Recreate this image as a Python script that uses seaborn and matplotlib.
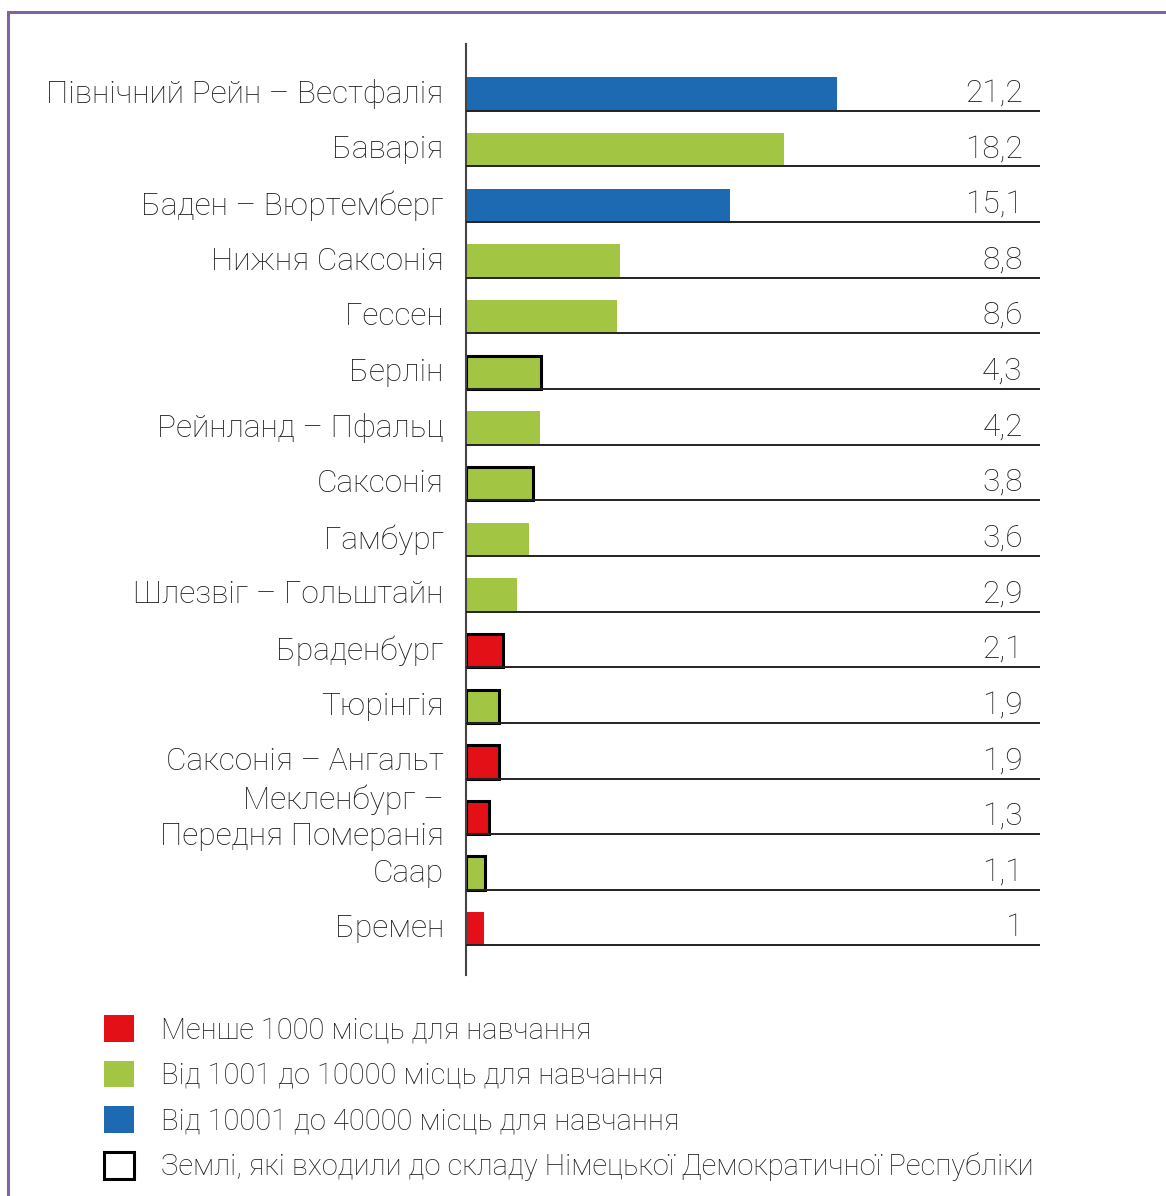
import matplotlib
matplotlib.use("Agg")
import matplotlib.pyplot as plt
import matplotlib.patches as mpatches
import seaborn as sns
import pandas as pd

# Federal states of Germany, number of study places (thousands)
states = [
    "Північний Рейн – Вестфалія",
    "Баварія",
    "Баден – Вюртемберг",
    "Нижня Саксонія",
    "Гессен",
    "Берлін",
    "Рейнланд – Пфальц",
    "Саксонія",
    "Гамбург",
    "Шлезвіг – Гольштайн",
    "Браденбург",
    "Тюрінгія",
    "Саксонія – Ангальт",
    "Мекленбург –\nПередня Померанія",
    "Саар",
    "Бремен",
]
values = [21.2, 18.2, 15.1, 8.8, 8.6, 4.3, 4.2, 3.8, 3.6, 2.9, 2.1, 1.9, 1.9, 1.3, 1.1, 1.0]
value_labels = ["21,2", "18,2", "15,1", "8,8", "8,6", "4,3", "4,2", "3,8", "3,6",
                "2,9", "2,1", "1,9", "1,9", "1,3", "1,1", "1"]
size_class = ["large", "medium", "large", "medium", "medium", "medium", "medium", "medium",
              "medium", "medium", "small", "medium", "small", "small", "medium", "small"]
former_gdr = [False, False, False, False, False, True, False, True,
              False, False, True, True, True, True, True, False]

class_order = ["small", "medium", "large"]
class_colors = {"small": "#e31017", "medium": "#a2c644", "large": "#1d6ab3"}
legend_labels = [
    "Менше 1000 місць для навчання",
    "Від 1001 до 10000 місць для навчання",
    "Від 10001 до 40000 місць для навчання",
    "Землі, які входили до складу Німецької Демократичної Республіки",
]

df = pd.DataFrame({"state": states, "value": values, "cls": size_class})

sns.set_style("white")
plt.rcParams["font.family"] = ["Roboto", "DejaVu Sans"]
plt.rcParams["font.weight"] = "light"

FS = 22.8
fig = plt.figure(figsize=(11.66, 11.96), dpi=100)
ax = fig.add_axes([0.3997, 0.1848, 0.4922, 0.7784])

sns.barplot(data=df, y="state", x="value", hue="cls", hue_order=class_order,
            palette=class_colors, orient="h", width=0.6, dodge=False,
            legend=False, saturation=1, ax=ax)

# Outline the states of the former GDR
for bar in ax.patches:
    w = bar.get_width()
    if w <= 0:
        continue
    idx = int(round(bar.get_y() + bar.get_height() / 2))
    if former_gdr[idx]:
        bar.set_edgecolor("black")
        bar.set_linewidth(2.2)
    else:
        bar.set_linewidth(0)

n = len(states)
ax.set_xlim(0, 32.8)
ax.set_ylim(n - 1 + 0.83, -0.9)

# Row separators under each bar
ax.hlines([i + 0.3 for i in range(n)], 0, 32.8, colors="#222222", linewidth=1.4, zorder=3)

# Values on the right side of each row
for i, lab in enumerate(value_labels):
    ax.text(0.97, i - 0.02, lab, transform=ax.get_yaxis_transform(),
            ha="right", va="center", fontsize=FS, color="#1a1a1a")

for s in ["top", "right", "bottom"]:
    ax.spines[s].set_visible(False)
ax.spines["left"].set_color("#444444")
ax.spines["left"].set_linewidth(1.5)
ax.set_xticks([])
ax.set_xlabel("")
ax.set_ylabel("")
ax.tick_params(axis="y", length=0, pad=16, labelsize=FS, labelcolor="#1a1a1a")
for t in ax.get_yticklabels():
    t.set_multialignment("right")
    t.set_linespacing(1.3)
    t.set_verticalalignment("center")

# Legend
handles = [mpatches.Patch(facecolor=class_colors[c], edgecolor="none") for c in class_order]
handles.append(mpatches.Patch(facecolor="white", edgecolor="black", linewidth=2.2))
fig.legend(handles, legend_labels, loc="upper left", bbox_to_anchor=(0.0892, 0.1513),
           frameon=False, fontsize=21, handlelength=1.03, handleheight=1.03,
           handletextpad=0.92, labelspacing=0.56, borderpad=0, borderaxespad=0,
           labelcolor="#1a1a1a")

# Purple frame around the figure
frame = mpatches.Rectangle((8 / 1166, -0.1), 1.2, 1.1 - 12 / 1196, transform=fig.transFigure,
                           fill=False, edgecolor="#8064a2", linewidth=2.2)
fig.patches.append(frame)

fig.savefig("out.png", dpi=100, facecolor="white")
